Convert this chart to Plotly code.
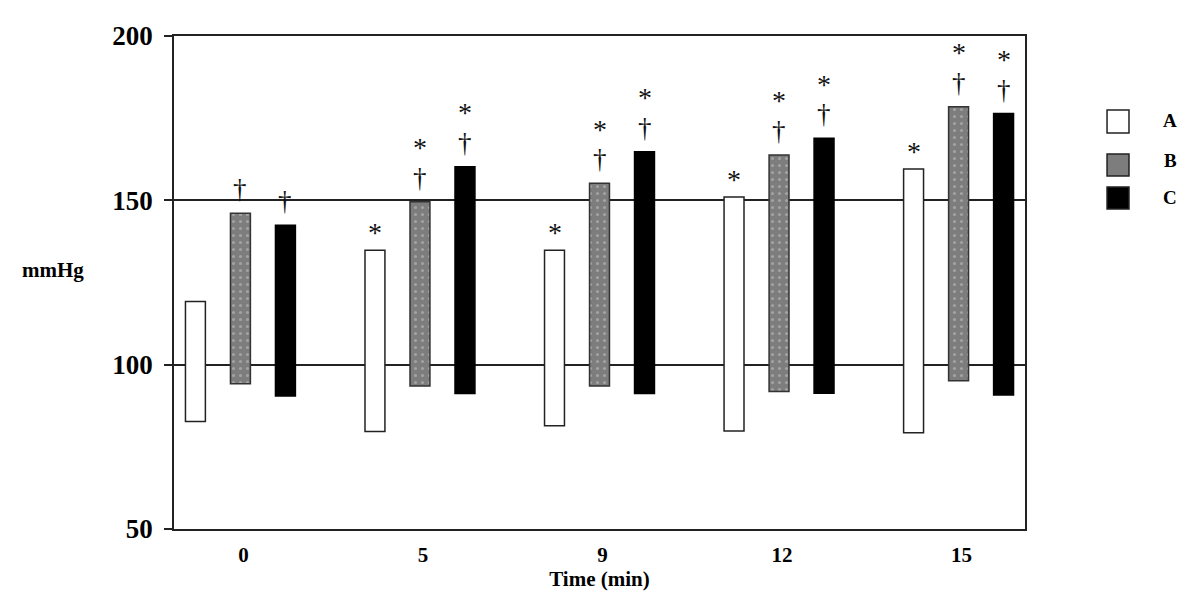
import plotly.graph_objects as go

# ---- data (mmHg) ----
times = ["0", "5", "9", "12", "15"]
series_names = ["A", "B", "C"]
a_low = [82.7, 79.7, 81.4, 79.8, 79.3]
a_high = [119.2, 134.8, 134.8, 151.0, 159.5]
b_low = [94.2, 93.5, 93.5, 91.8, 95.1]
b_high = [146.1, 149.6, 155.2, 163.8, 178.5]
c_low = [90.5, 91.2, 91.2, 91.3, 90.8]
c_high = [142.4, 160.2, 164.8, 168.9, 176.4]
# significance markers
star_a = [False, True, True, True, True]
star_b = [False, True, True, True, True]
star_c = [False, True, True, True, True]
dagger_a = [False, False, False, False, False]
dagger_b = [True, True, True, True, True]
dagger_c = [True, True, True, True, True]

FONT = "Liberation Serif"
BARGAP = 0.248
fig = go.Figure()

styles = [
    dict(color="white", line=dict(color="#222", width=1.5)),
    dict(color="#7d7d7d", line=dict(color="#333", width=1.5),
         pattern=dict(shape=".", fgcolor="#c8c8c8", bgcolor="#7d7d7d", size=7, solidity=0.15)),
    dict(color="black", line=dict(color="black", width=1.5)),
]
lows = [a_low, b_low, c_low]
highs = [a_high, b_high, c_high]
for name, lo, hi, st in zip(series_names, lows, highs, styles):
    fig.add_trace(go.Bar(
        x=times, y=[h - l for h, l in zip(hi, lo)], base=lo, name=name,
        marker=st, showlegend=False))

stars = [star_a, star_b, star_c]
daggers = [dagger_a, dagger_b, dagger_c]
slot = (1 - BARGAP) / 3
for k in range(3):
    for i in range(len(times)):
        xpos = i + (k - 1) * slot
        top = highs[k][i]
        shift = 24
        if daggers[k][i]:
            fig.add_annotation(x=xpos, y=top, text="†", showarrow=False,
                               yanchor="middle", yshift=shift,
                               font=dict(family=FONT, size=27, color="#111"))
            shift += 36
        if stars[k][i]:
            fig.add_annotation(x=xpos, y=top, text="*", showarrow=False,
                               yanchor="middle", yshift=shift - 6,
                               font=dict(family=FONT, size=28, color="#111"))

# y-axis label (horizontal)
fig.add_annotation(xref="paper", yref="paper", x=-0.181, y=0.525, xanchor="left",
                   yanchor="middle", text="<b>mmHg</b>", showarrow=False,
                   font=dict(family=FONT, size=21, color="black"))

# custom legend
leg_y = [(0.8032, 0.8499, 0.8276), (0.7160, 0.7606, 0.7465), (0.6491, 0.6937, 0.6714)]
leg_fill = ["white", "#7d7d7d", "black"]
for name, (y0, y1, yt), fc in zip(series_names, leg_y, leg_fill):
    fig.add_shape(type="rect", xref="paper", yref="paper", x0=1.0964, x1=1.1222,
                  y0=y0, y1=y1, fillcolor=fc, line=dict(color="#222", width=1.5))
    fig.add_annotation(xref="paper", yref="paper", x=1.1704, y=yt, text=f"<b>{name}</b>",
                       showarrow=False, xanchor="center", yanchor="middle",
                       font=dict(family=FONT, size=19, color="black"))

# page body has an 8px margin; compensate so the plot area lands where it should
fig.update_layout(
    width=1200, height=612,
    margin=dict(l=166, r=183, t=28, b=91, autoexpand=False),
    paper_bgcolor="white", plot_bgcolor="white",
    barmode="group", bargap=BARGAP, bargroupgap=0.557,
    font=dict(family=FONT, color="black"),
    xaxis=dict(
        type="category", range=[-0.37, 4.37],
        showline=True, linecolor="#222", linewidth=1.5, mirror=True,
        ticks="", showgrid=False, ticklabelshift=3, ticklabelstandoff=6,
        tickfont=dict(family=FONT, size=21, color="black", weight="bold"),
        title=dict(text="<b>Time (min)</b>", standoff=2,
                   font=dict(family=FONT, size=21, color="black")),
    ),
    yaxis=dict(
        range=[50, 200], tickvals=[50, 100, 150, 200],
        showline=True, linecolor="#222", linewidth=1.5, mirror=True,
        ticks="outside", ticklen=8, tickwidth=1.5, tickcolor="#222",
        showgrid=True, gridcolor="#222", gridwidth=1.5, zeroline=False,
        ticklabelstandoff=6,
        tickfont=dict(family=FONT, size=27, color="black", weight="bold"),
    ),
)

fig.write_html("out.html")
